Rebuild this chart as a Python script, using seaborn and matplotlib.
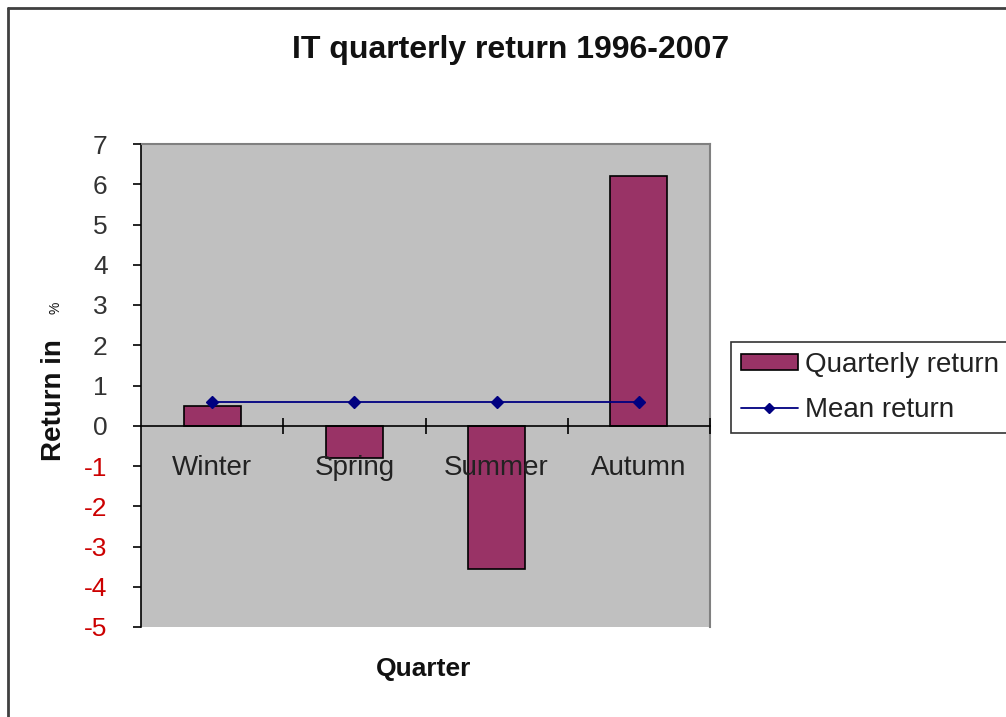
import matplotlib
matplotlib.use("Agg")
import matplotlib.pyplot as plt
import seaborn as sns
from matplotlib.patches import Patch
from matplotlib.lines import Line2D

quarters = ["Winter", "Spring", "Summer", "Autumn"]
quarterly_return = [0.48, -0.80, -3.55, 6.20]
mean_return = [0.58, 0.58, 0.58, 0.58]
y_ticks = [-5, -4, -3, -2, -1, 0, 1, 2, 3, 4, 5, 6, 7]

sns.set_style("white")
plt.rcParams["font.family"] = ["Liberation Sans", "DejaVu Sans"]

W, H = 1006, 717
fig = plt.figure(figsize=(W / 100, H / 100), dpi=100)
fig.patch.set_facecolor("white")
ax = fig.add_axes([141 / W, 1 - 627 / H, (710 - 141) / W, (627 - 144) / H])
ax.set_facecolor("#c0c0c0")
ax.set_axisbelow(False)

bar_color = "#993366"
line_color = "#000080"

sns.barplot(x=quarters, y=quarterly_return, color=bar_color, edgecolor="black",
            linewidth=1.2, width=0.4, saturation=1, ax=ax)
sns.pointplot(x=quarters, y=mean_return, color=line_color, markers="D",
              linestyles="-", errorbar=None, markersize=6, linewidth=1.3, ax=ax)

ax.set_xlim(-0.5, 3.5)
ax.set_ylim(-5, 7)
ax.set_xlabel("")
ax.set_ylabel("")

# spines
ax.spines["bottom"].set_position(("data", 0))
ax.spines["bottom"].set_color("black")
ax.spines["bottom"].set_linewidth(1.2)
ax.spines["left"].set_color("black")
ax.spines["left"].set_linewidth(1.2)
for s in ["top", "right"]:
    ax.spines[s].set_color("#808080")
    ax.spines[s].set_linewidth(1.5)

# y ticks
ax.set_yticks(y_ticks)
ax.set_yticklabels([str(v) for v in y_ticks], fontsize=19)
ax.tick_params(axis="y", direction="out", length=6, width=1.2, pad=18, color="black",
               left=True)
for lab, v in zip(ax.get_yticklabels(), y_ticks):
    lab.set_color("#cc0000" if v < 0 else "#333333")

# x ticks: major at boundaries (crossing), minor at centers with labels
ax.set_xticks([0.5, 1.5, 2.5, 3.5])
ax.set_xticklabels([])
ax.tick_params(axis="x", which="major", direction="inout", length=12, width=1.2,
               color="black", bottom=True)
ax.set_xticks([0, 1, 2, 3], minor=True)
ax.set_xticklabels(quarters, minor=True, fontsize=20, color="#222222")
ax.tick_params(axis="x", which="minor", length=0, pad=21)

# titles / labels
fig.text(511 / W, 1 - 50 / H, "IT quarterly return 1996-2007", ha="center",
         va="center", fontsize=23, fontweight="bold", color="#111111")
fig.text(424 / W, 1 - 669 / H, "Quarter", ha="center", va="center",
         fontsize=19, fontweight="bold", color="#111111")
fig.text(54 / W, 1 - 400 / H, "Return in", ha="center", va="center",
         rotation=90, fontsize=20, fontweight="bold", color="#111111")
fig.text(56 / W, 1 - 308 / H, "%", ha="center", va="center",
         rotation=90, fontsize=10, color="#111111")

# legend
handles = [Patch(facecolor=bar_color, edgecolor="black", linewidth=1.2),
           Line2D([0], [0], color=line_color, marker="D", markersize=5, linewidth=1.3)]
leg = fig.legend(handles, ["Quarterly return", "Mean return"],
                 loc="upper left", bbox_to_anchor=(731 / W, 1 - 342 / H),
                 fontsize=20, frameon=True, fancybox=False, handlelength=2.05,
                 handleheight=0.5, handletextpad=0.25, borderpad=0.35,
                 labelspacing=0.7, borderaxespad=0)
leg.get_frame().set_edgecolor("black")
leg.get_frame().set_linewidth(1.2)
for t in leg.get_texts():
    t.set_color("#222222")

# outer chart border (left and top)
fig.add_artist(Line2D([8 / W, 8 / W], [0, 1 - 8 / H], transform=fig.transFigure,
                      color="#404040", linewidth=2))
fig.add_artist(Line2D([8 / W, 1], [1 - 8 / H, 1 - 8 / H], transform=fig.transFigure,
                      color="#404040", linewidth=2))

fig.savefig("out.png", dpi=100)
